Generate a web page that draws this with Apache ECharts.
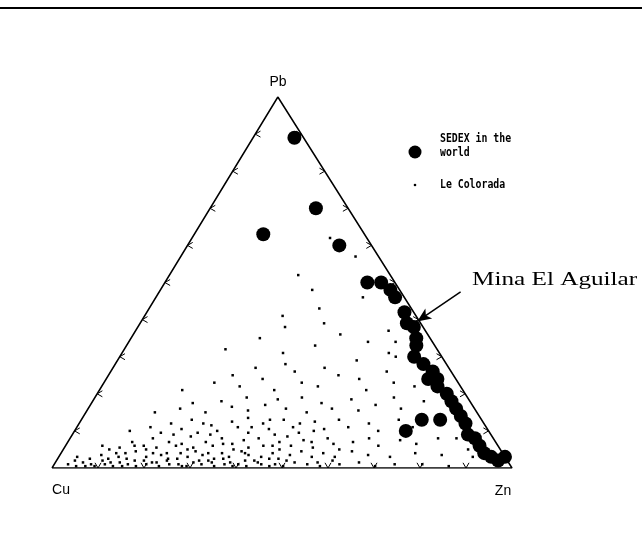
<!DOCTYPE html>
<html><head><meta charset="utf-8">
<script src="https://cdn.jsdelivr.net/npm/echarts@6/dist/echarts.min.js"></script>
<style>html,body{margin:0;padding:0;background:#fff}#c{width:642px;height:539px}</style>
</head><body><div id="c"></div>
<script>
// ternary compositions in percent: [Pb, Zn]  (Cu = 100 - Pb - Zn)
const vertexLabels = ['Pb', 'Cu', 'Zn'];
const tickSteps = [10, 20, 30, 40, 50, 60, 70, 80, 90];
const sedex = [
  [89, 9], [70, 23], [63, 15], [60, 33], [50, 44], [50, 47], [48, 50], [46, 52],
  [42, 56], [39, 58], [38, 60], [35, 62], [33, 63], [30, 64], [28, 67], [26, 70],
  [24, 70], [24, 72], [22, 73], [20, 76], [18, 78], [16, 80], [14, 82], [13, 74],
  [13, 78], [10, 72], [12, 84], [9, 86], [8, 88], [6, 90], [4, 92], [3, 94],
  [2, 96], [3, 97]
];
const colorada = [
  [1,3],[0.5,5],[1.5,6],[1,8],[0.5,9],[2,10],[1,11],[0.5,13],[1.5,14],[1,16],[2,17],[0.5,18],
  [1,20],[1.5,21],[0.5,23],[2,24],[1,25],[1,27],[0.5,29],[1.5,30],[1,32],[2,33],[0.5,35],[1,37],
  [1.5,38],[1,40],[0.5,42],[2,43],[1,45],[1,48],[0.5,50],[1.5,52],[1,55],[0.5,58],[1,62],[1.5,66],
  [0.5,70],[1,74],[1,80],[0.5,86],
  [2,4],[0.5,7],[2.5,11],[1.5,12],[0.5,15],[2,19],[1.5,22],[2.5,26],[0.5,28],[2,31],[1.5,34],[2.5,36],
  [0.5,39],[2,41],[1.5,44],[2.5,46],[0.5,47],[2,50],[1.5,57],[2,60],
  [3,4],[2.5,7],[3.5,9],[4,12],[3,13],[2.5,15],[4.5,16],[3,19],[4,20],[3.5,22],[2.5,24],[4,26],
  [3,28],[4.5,29],[3.5,31],[2.5,34],[4,35],[3,37],[4.5,39],[3.5,41],[3,44],[4,46],[2.5,48],[3.5,50],
  [4.5,52],[3,55],[4,57],[3,60],[4.5,63],[3.5,67],[3,72],[4,77],[3.5,83],
  [5,10],[4,14],[6,15],[5,18],[4,23],[6,24],[5,27],[4,32],[6.5,34],[5,37],[4,40],[6,45],[5,47],[7,53],[5,60],
  [6,8],[5.5,12],[7,14],[6,17],[8,18],[5.5,20],[7,22],[6.5,25],[8.5,26],[5.5,28],[7,30],[6,32],
  [8,33],[6.5,36],[7.5,38],[5.5,40],[8,41],[6,43],[7,46],[8.5,47],[6,49],[7.5,51],[5.5,54],[8,56],
  [6.5,58],[7,62],[8,65],[6,68],[7.5,72],[6.5,76],[8,80],
  [9,22],[12,27],[9,30],[11,38],[13,41],[9,44],[12,48],[10,52],
  [10,12],[11,16],[9.5,19],[12,20],[10.5,23],[13,24],[9.5,27],[11.5,29],[10,31],[12.5,33],[11,35],
  [13.5,36],[9.5,38],[12,40],[10.5,42],[13,44],[11,47],[9.5,49],[12.5,51],[10.5,54],[13,56],[11,59],
  [12,63],[10,66],[13,69],[11,73],
  [15,15],[16,20],[17.5,22],[15,26],[18,28],[16.5,31],[19,33],[15.5,35],[17,38],[18.5,40],[16,43],
  [19,45],[15,48],[17.5,50],[16,53],[18.5,56],[15.5,59],[17,62],[19,65],[16,68],
  [21,18],[23,24],[22,30],[25,27],[24,34],[27,31],[21,38],[26,40],[23,43],[28,37],[22,47],[25,50],
  [27,46],[24,55],[21,58],[26,60],[29,52],[23,63],
  [32,22],[35,28],[31,35],[38,32],[33,41],[36,45],[41,30],[34,52],[39,40],[31,58],[43,37],[37,55],
  [48,33],[52,28],[57,38],[62,30],[46,45],
  [30,60],[34,58],[22,68],[18,72],[14,77],[8,84],[5,88],[3,90]
];
const aguilarTip = [39.5, 60];   // [Pb, Zn]
const aguilarTail = [47.5, 65.5];

// apex sits slightly left of the base midpoint in the original figure
function toXY(pb, zn) { return [zn + pb * 0.491, pb]; }

const triangle = [toXY(0, 0), toXY(0, 100), toXY(100, 0), toXY(0, 0)];
const ticks = [];
tickSteps.forEach(t => {
  ticks.push([...toXY(t, 0), 0]);        // Cu-Pb edge
  ticks.push([...toXY(t, 100 - t), 1]);  // Zn-Pb edge
  ticks.push([...toXY(0, t), 2]);        // Cu-Zn edge
});

const chart = echarts.init(document.getElementById('c'), null, {renderer: 'canvas'});
const labelFont = 'Liberation Sans, Arial, sans-serif';
const monoFont = 'DejaVu Sans Mono, monospace';

chart.setOption({
  animation: false,
  backgroundColor: '#fff',
  grid: {left: 52, right: 130, top: 97, bottom: 71},
  xAxis: {type: 'value', min: 0, max: 100, show: false},
  yAxis: {type: 'value', min: 0, max: 100, show: false},
  graphic: [
    {type: 'line', shape: {x1: 0, y1: 8, x2: 642, y2: 8}, style: {stroke: '#000', lineWidth: 2}},
    {type: 'text', x: 278, y: 82, style: {text: vertexLabels[0], font: '14px ' + labelFont, fill: '#000', align: 'center', verticalAlign: 'middle'}},
    {type: 'text', x: 61, y: 490, style: {text: vertexLabels[1], font: '14px ' + labelFont, fill: '#000', align: 'center', verticalAlign: 'middle'}},
    {type: 'text', x: 503, y: 491, style: {text: vertexLabels[2], font: '14px ' + labelFont, fill: '#000', align: 'center', verticalAlign: 'middle'}},
    {type: 'circle', shape: {cx: 415, cy: 152, r: 6.5}, style: {fill: '#000'}},
    {type: 'text', x: 440, y: 146, scaleX: 0.82,
     style: {text: 'SEDEX in the\nworld', font: 'bold 12px ' + monoFont, lineHeight: 14, fill: '#000', verticalAlign: 'middle'}},
    {type: 'circle', shape: {cx: 415, cy: 185, r: 1.3}, style: {fill: '#000'}},
    {type: 'text', x: 440, y: 185, scaleX: 0.82,
     style: {text: 'Le Colorada', font: 'bold 12px ' + monoFont, fill: '#000', verticalAlign: 'middle'}},
    {type: 'text', x: 472, y: 280, scaleX: 1.4,
     style: {text: 'Mina El Aguilar', font: '18px Liberation Serif, Times New Roman, serif', fill: '#000', verticalAlign: 'middle'}}
  ],
  series: [
    {type: 'line', data: triangle, showSymbol: false, silent: true,
     lineStyle: {color: '#000', width: 1.5}, z: 1},
    {type: 'custom', data: ticks, silent: true, z: 2,
     renderItem: function (params, api) {
       const p = api.coord([api.value(0), api.value(1)]);
       const dirs = [[1, 0], [-1, 0], [0, -1]];
       const d = dirs[api.value(2)];
       const L = 6, a = Math.PI / 6;
       const rot = (v, g) => [v[0] * Math.cos(g) - v[1] * Math.sin(g), v[0] * Math.sin(g) + v[1] * Math.cos(g)];
       const d1 = rot(d, a), d2 = rot(d, -a);
       return {type: 'polyline', shape: {points: [[p[0] + d1[0] * L, p[1] + d1[1] * L], p, [p[0] + d2[0] * L, p[1] + d2[1] * L]]},
               style: {stroke: '#000', fill: null, lineWidth: 1}};
     }},
    {type: 'scatter', name: 'Le Colorada', data: colorada.map(d => toXY(d[0], d[1])), symbol: 'rect', symbolSize: 2.5,
     itemStyle: {color: '#000', opacity: 1}, silent: true, z: 3},
    {type: 'scatter', name: 'SEDEX in the world', data: sedex.map(d => toXY(d[0], d[1])), symbolSize: 14,
     itemStyle: {color: '#000', opacity: 1}, silent: true, z: 4,
     markLine: {silent: true, symbol: ['none', 'arrow'], symbolSize: [9, 14], label: {show: false},
       lineStyle: {color: '#000', width: 1.5, type: 'solid'},
       data: [[{coord: toXY(aguilarTail[0], aguilarTail[1])}, {coord: toXY(aguilarTip[0], aguilarTip[1])}]]}}
  ]
});
</script></body></html>
